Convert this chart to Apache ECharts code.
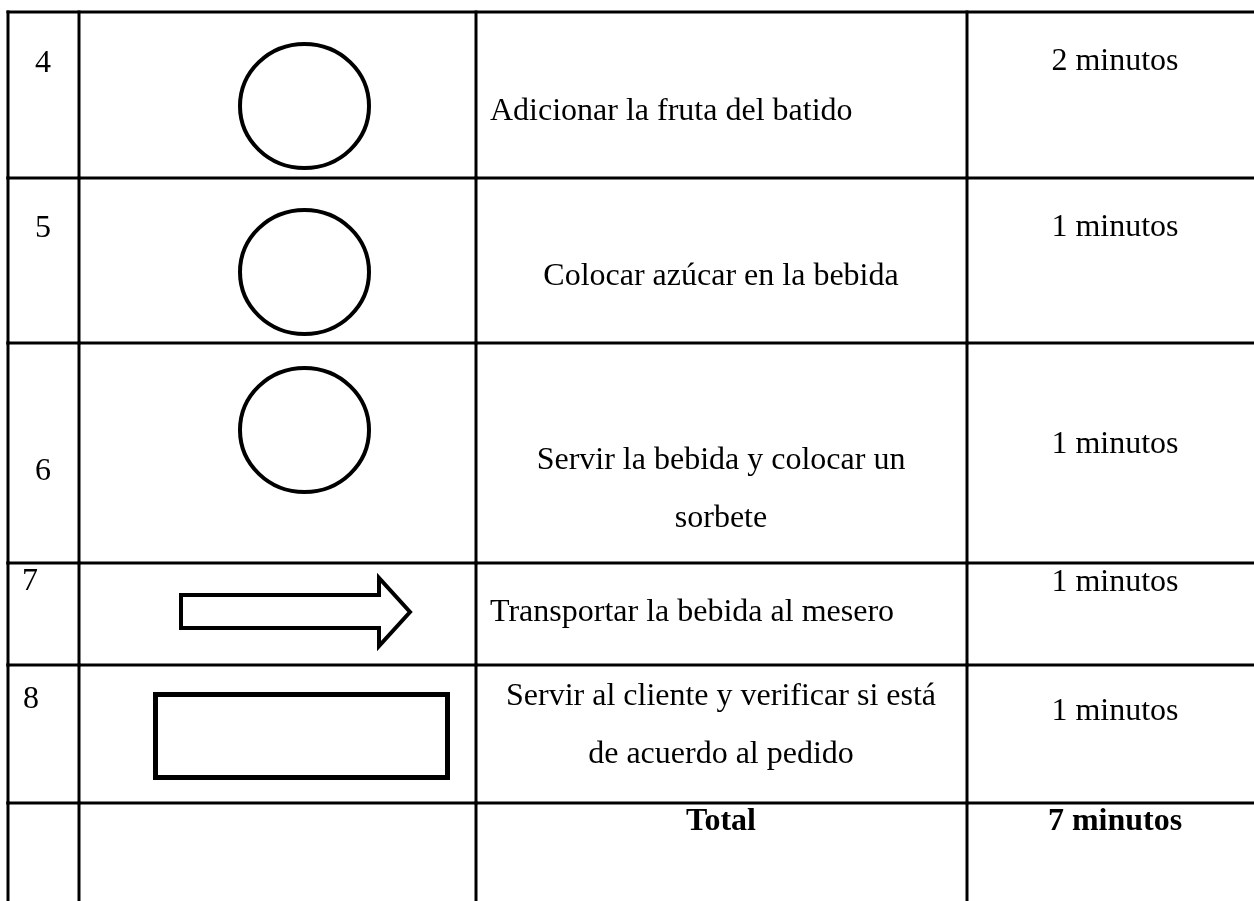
<!DOCTYPE html>
<html><head><meta charset="utf-8">
<script src="https://cdn.jsdelivr.net/npm/echarts@6/dist/echarts.min.js"></script>
<style>html,body{margin:0;padding:0;background:#fff}#c{width:1254px;height:901px}</style>
</head><body><div id="c"></div>
<script>
// ---- table content ----
const stepNumbers = ['4', '5', '6', '7', '8', ''];
const symbolTypes = ['circle', 'circle', 'circle', 'arrow', 'rect', 'none'];
const descriptions = [
  'Adicionar la fruta del batido',
  'Colocar azúcar en la bebida',
  'Servir la bebida y colocar un\nsorbete',
  'Transportar la bebida al mesero',
  'Servir al cliente y verificar si está\nde acuerdo al pedido',
  'Total'
];
const times = ['2 minutos', '1 minutos', '1 minutos', '1 minutos', '1 minutos', '7 minutos'];
const boldRow = [false, false, false, false, false, true];

// ---- layout (page pixels, mapped through the hidden value axes) ----
const colEdges = [8, 79, 476, 967, 1263];
const rowEdges = [12, 178, 343, 563, 665, 803, 910];
const numPos = [[35, 64], [35, 229], [35, 472], [22, 582], [23, 700], [35, 822]];
const descAlign = ['left', 'center', 'center', 'left', 'center', 'center'];
const descX = [490, 721, 721, 490, 721, 721];
const descMid = [112, 277, 490, 613, 726, 822];
const timeMid = [62, 228, 445, 583, 712, 822];
const ellipses = [[304.5, 106, 64.5, 62], [304.5, 272, 64.5, 62], [304.5, 430, 64.5, 62]];
const arrowPts = [[181, 595], [379, 595], [379, 578], [410, 612], [379, 646], [379, 628], [181, 628]];
const rectBox = [155.5, 694.5, 292, 83];

const FONT = '"Liberation Serif", "Times New Roman", serif';
const FS = 32;

function renderRow(params, api) {
  const i = api.value(0);
  const P = (x, y) => api.coord([x, y]);
  const children = [];
  const top = rowEdges[i], bot = rowEdges[i + 1];
  const lineStyle = { stroke: '#000', lineWidth: 3, lineCap: 'square' };
  let a = P(colEdges[0], top), b = P(colEdges[colEdges.length - 1], top);
  children.push({ type: 'line', shape: { x1: a[0], y1: a[1], x2: b[0], y2: b[1] }, style: lineStyle });
  colEdges.forEach(x => {
    const p1 = P(x, top), p2 = P(x, bot);
    children.push({ type: 'line', shape: { x1: p1[0], y1: p1[1], x2: p2[0], y2: p2[1] }, style: lineStyle });
  });
  const weight = boldRow[i] ? 'bold' : 'normal';
  if (stepNumbers[i]) {
    const p = P(numPos[i][0], numPos[i][1]);
    children.push({ type: 'text', x: p[0], y: p[1], style: { text: stepNumbers[i], font: `${FS}px ${FONT}`, fill: '#000', align: 'left', verticalAlign: 'middle' } });
  }
  {
    const lines = descriptions[i].split('\n');
    const lh = 58;
    lines.forEach((t, k) => {
      const p = P(descX[i], descMid[i] - (lines.length - 1) * lh / 2 + k * lh);
      children.push({ type: 'text', x: p[0], y: p[1], style: { text: t, font: `${weight} ${FS}px ${FONT}`, fill: '#000', align: descAlign[i], verticalAlign: 'middle' } });
    });
  }
  {
    const p = P((colEdges[3] + colEdges[4]) / 2, timeMid[i]);
    children.push({ type: 'text', x: p[0], y: p[1], style: { text: times[i], font: `${weight} ${FS}px ${FONT}`, fill: '#000', align: 'center', verticalAlign: 'middle' } });
  }
  const sym = symbolTypes[i];
  if (sym === 'circle') {
    const e = ellipses[i];
    const c = P(e[0], e[1]);
    const rx = P(e[0] + e[2], e[1])[0] - c[0];
    const ry = P(e[0], e[1] + e[3])[1] - c[1];
    const d = `M ${c[0] - rx} ${c[1]} A ${rx} ${ry} 0 1 0 ${c[0] + rx} ${c[1]} A ${rx} ${ry} 0 1 0 ${c[0] - rx} ${c[1]} Z`;
    children.push({ type: 'path', shape: { pathData: d }, style: { fill: 'none', stroke: '#000', lineWidth: 4 } });
  } else if (sym === 'arrow') {
    children.push({ type: 'polygon', shape: { points: arrowPts.map(q => P(q[0], q[1])) }, style: { fill: '#fff', stroke: '#000', lineWidth: 4, lineJoin: 'miter' } });
  } else if (sym === 'rect') {
    const p = P(rectBox[0], rectBox[1]), q = P(rectBox[0] + rectBox[2], rectBox[1] + rectBox[3]);
    children.push({ type: 'rect', shape: { x: p[0], y: p[1], width: q[0] - p[0], height: q[1] - p[1] }, style: { fill: 'none', stroke: '#000', lineWidth: 5, lineJoin: 'miter' } });
  }
  return { type: 'group', children };
}

const chart = echarts.init(document.getElementById('c'), null, { renderer: 'canvas' });
chart.setOption({
  backgroundColor: '#fff',
  animation: false,
  grid: { left: 0, right: 0, top: 0, bottom: 0 },
  xAxis: { type: 'value', min: 0, max: 1254, show: false },
  yAxis: { type: 'value', min: 0, max: 901, inverse: true, show: false },
  series: [{
    type: 'custom',
    renderItem: renderRow,
    data: stepNumbers.map((s, i) => [i]),
    clip: true,
    silent: true
  }]
});
</script>
</body></html>
